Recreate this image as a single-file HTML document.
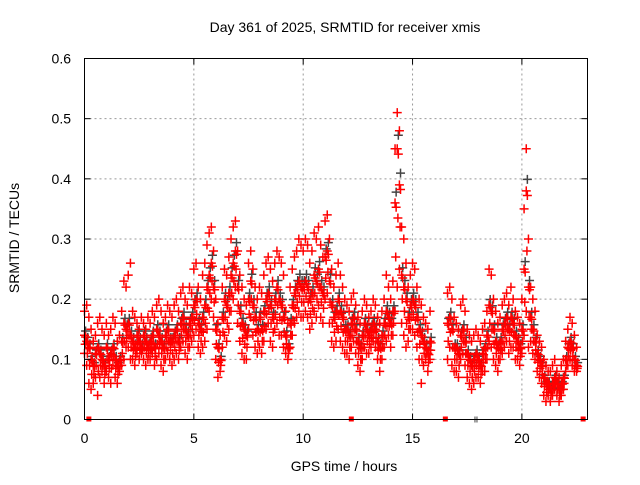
<!DOCTYPE html>
<html><head><meta charset="utf-8"><style>
body{margin:0;background:#fff}
svg text{font-family:"Liberation Sans",sans-serif;font-size:14px;fill:#000}
</style></head><body>
<svg id="chart" width="640" height="480" xmlns="http://www.w3.org/2000/svg">
<text x="345" y="32" text-anchor="middle">Day 361 of 2025, SRMTID for receiver xmis</text>
<text transform="translate(19,238) rotate(-90)" text-anchor="middle">SRMTID / TECUs</text>
<text x="344" y="471" text-anchor="middle">GPS time / hours</text>
<g id="grid"></g>
<g id="gray"></g>
<g id="red"></g>
<rect x="84.5" y="58.5" width="503" height="361" fill="none" stroke="#000" stroke-width="1"/>
<g id="axes"></g>
</svg>
<script>
const xTicks=[0,5,10,15,20];
const yTicks=[0,0.1,0.2,0.3,0.4,0.5,0.6];
const yTickLabels=["0","0.1","0.2","0.3","0.4","0.5","0.6"];
const N=null;
const hiVals=[0.18,0.19,0.17,0.15,0.13,0.14,0.16,0.17,0.15,0.14,
0.16,0.14,0.15,0.17,0.16,0.13,0.14,0.18,0.23,0.22,
0.24,0.26,0.18,0.17,0.16,0.15,0.17,0.16,0.15,0.17,
0.16,0.18,0.17,0.19,0.20,0.18,0.16,0.17,0.19,0.18,
0.17,0.19,0.20,0.18,0.21,0.22,0.20,0.19,0.22,0.21,
0.25,0.26,0.22,0.20,0.24,0.26,0.29,0.31,0.32,0.28,
0.20,0.16,0.14,0.22,0.25,0.24,0.27,0.30,0.32,0.33,
0.28,0.24,0.22,0.20,0.19,0.26,0.28,0.25,0.22,0.20,
0.22,0.21,0.24,0.26,0.27,0.25,0.23,0.26,0.28,0.27,
0.26,0.24,0.18,0.16,0.22,0.25,0.27,0.28,0.30,0.29,
0.28,0.30,0.29,0.26,0.28,0.31,0.30,0.32,0.29,0.27,
0.33,0.34,0.30,0.25,0.22,0.24,0.26,0.24,0.22,0.20,
0.19,0.18,0.20,0.21,0.19,0.17,0.16,0.18,0.20,0.19,
0.17,0.18,0.20,0.19,0.17,0.16,0.18,0.20,0.24,0.22,
0.20,0.23,0.45,0.51,0.48,0.32,0.30,0.26,0.22,0.24,
0.26,0.25,0.22,0.20,0.19,0.17,0.16,0.15,0.18,N,
N,N,N,N,N,N,0.21,0.22,0.20,0.17,
0.16,0.15,0.19,0.20,0.18,0.15,0.14,0.13,0.14,0.15,
0.14,0.13,0.15,0.16,0.18,0.25,0.24,0.20,0.18,0.16,
0.17,0.19,0.20,0.21,0.19,0.22,0.20,0.18,0.17,0.16,
0.20,0.35,0.45,0.30,0.22,0.20,0.18,0.14,0.13,0.12,
0.10,0.09,0.08,0.08,0.09,0.10,0.08,0.07,0.09,0.10,
0.13,0.15,0.17,0.16,0.14,0.12];
const midVals=[0.14,0.13,0.12,0.10,0.09,0.11,0.12,0.11,0.10,0.09,
0.12,0.10,0.11,0.12,0.10,0.09,0.10,0.13,0.16,0.15,
0.16,0.14,0.13,0.12,0.14,0.13,0.12,0.14,0.13,0.12,
0.13,0.14,0.12,0.15,0.14,0.13,0.12,0.14,0.15,0.13,
0.13,0.14,0.15,0.13,0.16,0.17,0.15,0.14,0.16,0.17,
0.19,0.20,0.16,0.15,0.17,0.19,0.22,0.24,0.26,0.22,
0.15,0.12,0.10,0.17,0.20,0.19,0.21,0.24,0.26,0.28,
0.22,0.18,0.16,0.15,0.14,0.20,0.23,0.19,0.17,0.15,
0.17,0.15,0.18,0.20,0.21,0.19,0.17,0.20,0.22,0.20,
0.19,0.17,0.14,0.12,0.16,0.19,0.21,0.22,0.23,0.22,
0.22,0.23,0.22,0.20,0.21,0.24,0.23,0.25,0.22,0.21,
0.27,0.28,0.23,0.19,0.17,0.18,0.20,0.18,0.17,0.15,
0.15,0.14,0.16,0.17,0.15,0.13,0.12,0.14,0.16,0.15,
0.14,0.15,0.16,0.15,0.13,0.12,0.14,0.16,0.18,0.17,
0.16,0.18,0.36,0.45,0.39,0.24,0.22,0.20,0.17,0.19,
0.20,0.19,0.17,0.15,0.14,0.13,0.12,0.11,0.13,N,
N,N,N,N,N,N,0.16,0.17,0.15,0.12,
0.12,0.11,0.14,0.15,0.13,0.11,0.10,0.09,0.10,0.11,
0.10,0.09,0.11,0.12,0.14,0.19,0.18,0.15,0.13,0.12,
0.13,0.15,0.16,0.17,0.15,0.17,0.16,0.14,0.13,0.12,
0.15,0.25,0.38,0.22,0.17,0.15,0.13,0.11,0.10,0.09,
0.07,0.06,0.06,0.05,0.06,0.07,0.06,0.05,0.06,0.07,
0.10,0.12,0.13,0.12,0.10,0.09];
const loVals=[0.11,0.09,0.06,0.05,0.06,0.07,0.04,0.07,0.08,0.06,
0.08,0.07,0.06,0.09,0.07,0.06,0.08,0.09,0.10,0.12,
0.12,0.10,0.10,0.09,0.11,0.10,0.11,0.10,0.09,0.10,
0.10,0.11,0.09,0.10,0.11,0.09,0.08,0.10,0.11,0.10,
0.09,0.10,0.11,0.10,0.12,0.13,0.11,0.10,0.12,0.13,
0.14,0.15,0.12,0.11,0.12,0.13,0.15,0.18,0.20,0.17,
0.10,0.07,0.08,0.12,0.14,0.13,0.15,0.18,0.20,0.22,
0.16,0.13,0.11,0.10,0.10,0.15,0.17,0.14,0.12,0.11,
0.12,0.11,0.13,0.15,0.16,0.13,0.12,0.15,0.16,0.14,
0.14,0.12,0.11,0.10,0.12,0.14,0.16,0.17,0.18,0.17,
0.17,0.18,0.17,0.15,0.16,0.18,0.17,0.19,0.17,0.16,
0.20,0.21,0.16,0.13,0.12,0.13,0.15,0.13,0.12,0.11,
0.11,0.10,0.12,0.13,0.11,0.09,0.08,0.10,0.12,0.11,
0.11,0.12,0.13,0.12,0.10,0.08,0.10,0.12,0.13,0.14,
0.12,0.14,0.18,0.22,0.25,0.16,0.14,0.12,0.13,0.15,
0.15,0.14,0.12,0.10,0.06,0.09,0.10,0.08,0.10,N,
N,N,N,N,N,N,0.10,0.12,0.09,0.08,
0.08,0.07,0.10,0.11,0.09,0.07,0.06,0.05,0.06,0.07,
0.07,0.06,0.08,0.08,0.10,0.13,0.12,0.10,0.09,0.08,
0.10,0.11,0.12,0.13,0.11,0.12,0.12,0.10,0.10,0.09,
0.11,0.14,0.18,0.12,0.13,0.11,0.10,0.08,0.07,0.06,
0.04,0.03,0.04,0.03,0.04,0.05,0.04,0.03,0.04,0.05,
0.08,0.09,0.10,0.09,0.08,0.08];
const redZeroTimes=[0.2,12.2,16.5,22.8];
const grayZeroTimes=[17.9];

const X0=84.5,X1=587.5,Y0=419.5,Y1=58.5,XMAX=23.0,YMAX=0.6;
const xs=t=>X0+(X1-X0)*t/XMAX;
const ys=v=>Y0-(Y0-Y1)*v/YMAX;
const NS="http://www.w3.org/2000/svg";
function mk(tag,attrs,parent){const e=document.createElementNS(NS,tag);for(const k in attrs)e.setAttribute(k,attrs[k]);parent.appendChild(e);return e;}
const grid=document.getElementById('grid'),axes=document.getElementById('axes');
xTicks.forEach(t=>{const x=xs(t);
 if(t>0){const l=mk('line',{x1:x,x2:x,y1:Y1,y2:Y0,stroke:'#999','stroke-dasharray':'2,3'},grid);
 
 }
 mk('line',{x1:x,x2:x,y1:Y0,y2:Y0-6,stroke:'#000'},axes);
 mk('line',{x1:x,x2:x,y1:Y1,y2:Y1+6,stroke:'#000'},axes);
 const tx=mk('text',{x:x,y:443,'text-anchor':'middle'},axes);tx.textContent=String(t);
 
 
});
yTicks.forEach((v,i)=>{const y=ys(v);
 if(v>0&&v<YMAX){const l=mk('line',{x1:X0,x2:X1,y1:y,y2:y,stroke:'#999','stroke-dasharray':'2,3'},grid);
 
 }
 mk('line',{x1:X0,x2:X0+6,y1:y,y2:y,stroke:'#000'},axes);
 mk('line',{x1:X1,x2:X1-6,y1:y,y2:y,stroke:'#000'},axes);
 const tx=mk('text',{x:71,y:y+5,'text-anchor':'end'},axes);tx.textContent=yTickLabels[i];
 
 
});
function cross(g,t,v,col){const x=xs(t),y=ys(v);
 const p=mk('path',{d:`M${x-4.5},${y}h9M${x},${y-4.5}v9`,stroke:col,'stroke-width':1.5,fill:'none'},g);
 
 }
const gray=document.getElementById('gray'),red=document.getElementById('red');
midVals.forEach((v,i)=>{if(v!==null)cross(gray,i*0.1+0.05,v*1.05,'#444');});
[hiVals,midVals,loVals].forEach(arr=>arr.forEach((v,i)=>{if(v!==null)cross(red,i*0.1,v,'#f00');}));
hiVals.forEach((v,i)=>{if(v!==null&&midVals[i]!==null)cross(red,i*0.1+0.05,midVals[i]*0.98,'#f00');});
loVals.forEach((v,i)=>{if(v!==null&&midVals[i]!==null)cross(red,i*0.1+0.03,(v+midVals[i])/2,'#f00');});
redZeroTimes.forEach(t=>{const r=mk('rect',{x:xs(t)-2.5,y:Y0-3,width:5,height:5,fill:'#f00'},red);
 
 });
grayZeroTimes.forEach(t=>{const r=mk('path',{d:`M${xs(t)-1},${Y0-3}v6M${xs(t)+1},${Y0-3}v6`,stroke:'#444'},gray);
 
 });
</script>
</body></html>
